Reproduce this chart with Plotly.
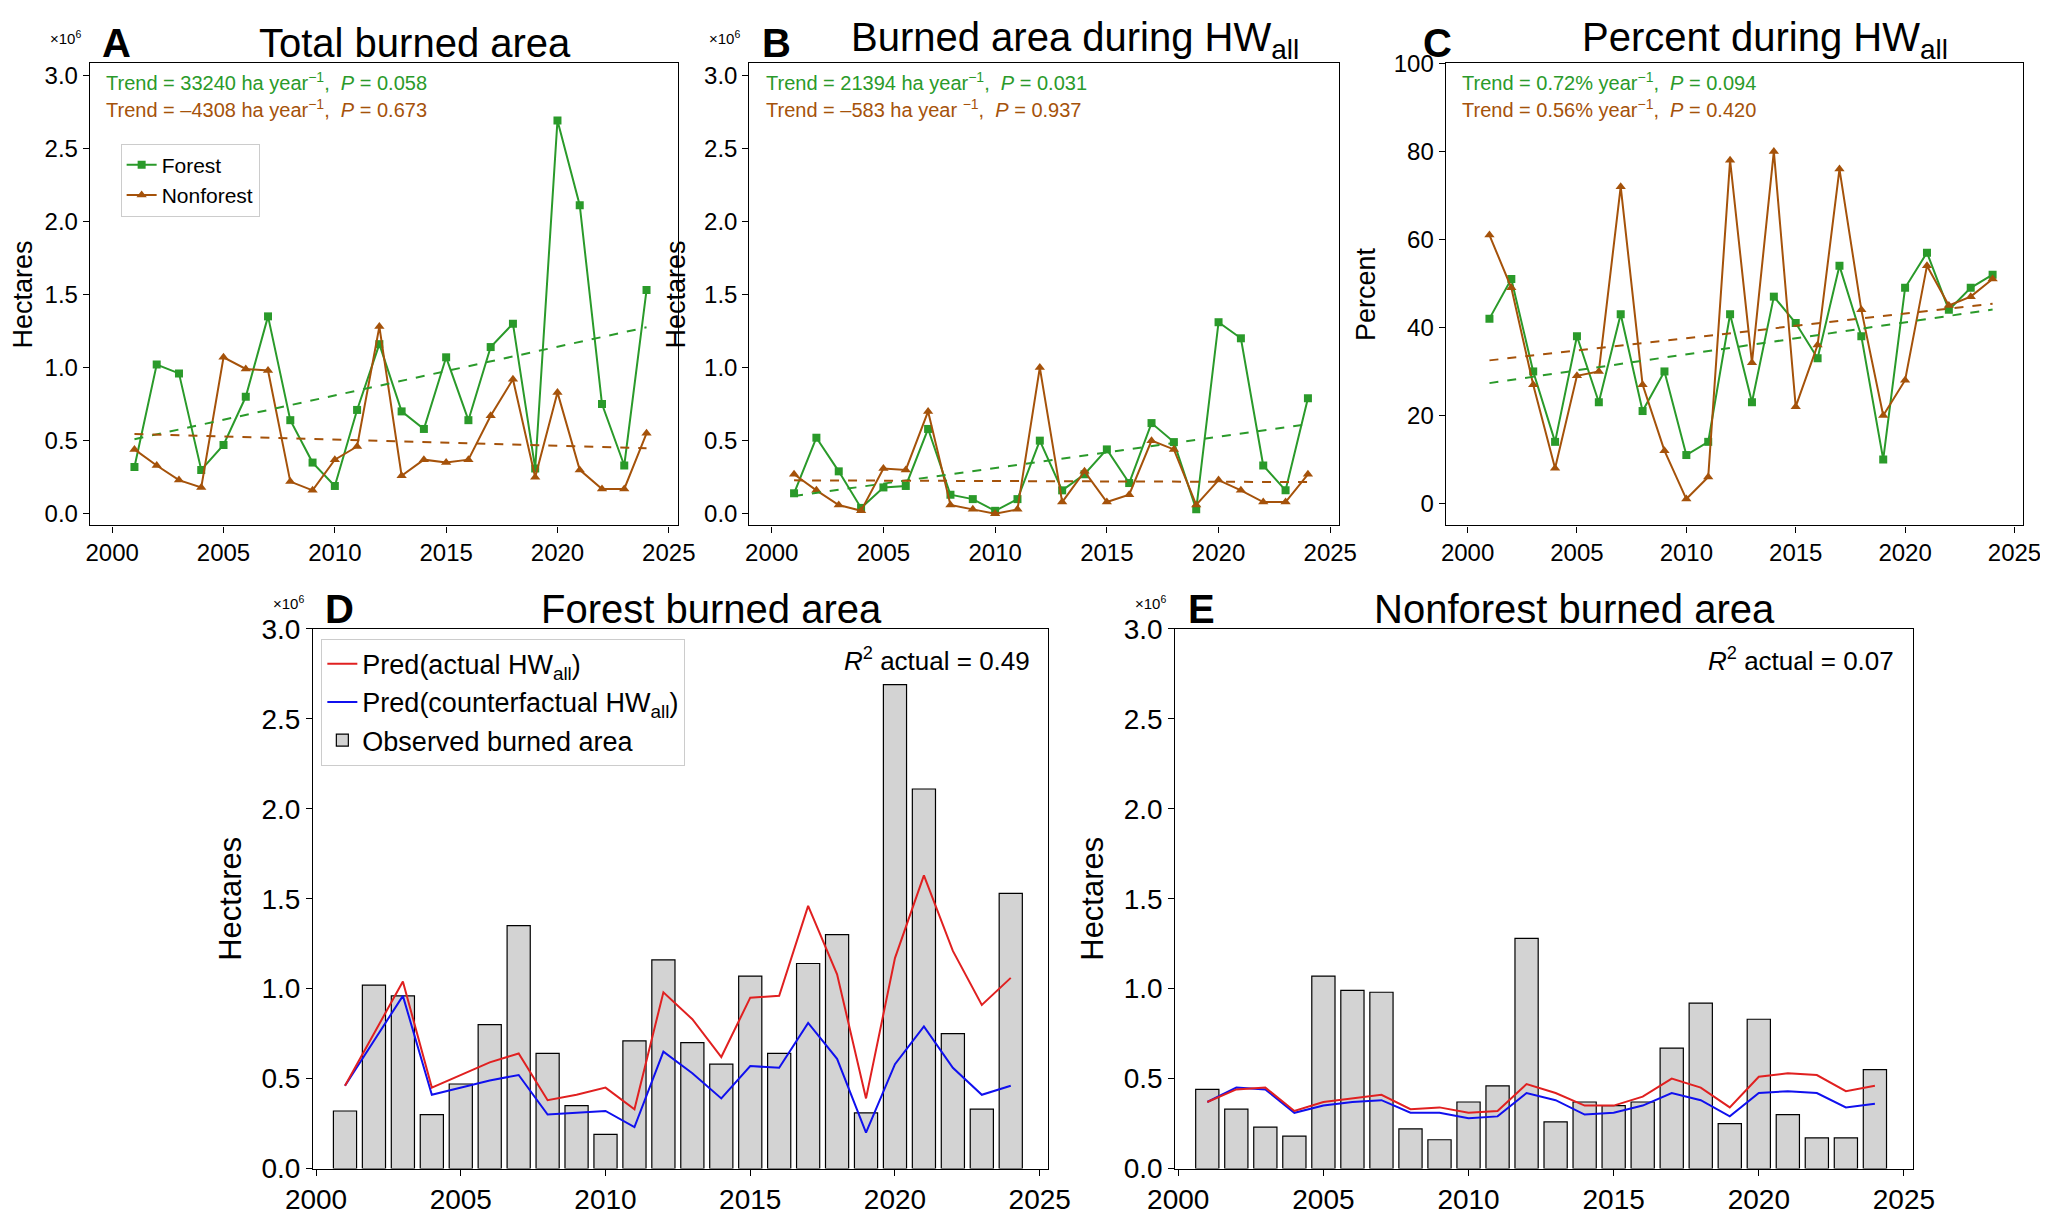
import numpy as np
import plotly.graph_objects as go

years = list(range(2001, 2025))

# burned area, million ha
forest_total = [0.32, 1.02, 0.96, 0.30, 0.47, 0.80, 1.35, 0.64, 0.35, 0.19, 0.71, 1.16,
                0.70, 0.58, 1.07, 0.64, 1.14, 1.30, 0.31, 2.69, 2.11, 0.75, 0.33, 1.53]
nonforest_total = [0.44, 0.33, 0.23, 0.18, 1.07, 0.99, 0.98, 0.22, 0.16, 0.37, 0.46, 1.28,
                   0.26, 0.37, 0.35, 0.37, 0.67, 0.92, 0.25, 0.83, 0.30, 0.17, 0.17, 0.55]
forest_hw = [0.14, 0.52, 0.29, 0.04, 0.18, 0.19, 0.58, 0.13, 0.10, 0.02, 0.10, 0.50,
             0.16, 0.27, 0.44, 0.21, 0.62, 0.49, 0.03, 1.31, 1.20, 0.33, 0.16, 0.79]
nonforest_hw = [0.27, 0.16, 0.06, 0.02, 0.31, 0.30, 0.70, 0.06, 0.03, 0.00, 0.03, 1.00,
                0.08, 0.29, 0.08, 0.13, 0.50, 0.44, 0.06, 0.23, 0.16, 0.08, 0.08, 0.27]
forest_pct = [42, 51, 30, 14, 38, 23, 43, 21, 30, 11, 14, 43, 23, 47, 41, 33, 54, 38, 10, 49, 57, 44, 49, 52]
nonforest_pct = [61, 49, 27, 8, 29, 30, 72, 27, 12, 1, 6, 78, 32, 80, 22, 36, 76, 44, 20, 28, 54, 45, 47, 51]

forest_pred_actual = [0.46, 0.75, 1.04, 0.45, 0.52, 0.59, 0.64, 0.38, 0.41, 0.45, 0.33, 0.98,
                      0.83, 0.62, 0.95, 0.96, 1.46, 1.08, 0.39, 1.17, 1.63, 1.21, 0.91, 1.06]
forest_pred_cf = [0.46, 0.71, 0.96, 0.41, 0.45, 0.49, 0.52, 0.30, 0.31, 0.32, 0.23, 0.65,
                  0.53, 0.39, 0.57, 0.56, 0.81, 0.61, 0.20, 0.58, 0.79, 0.56, 0.41, 0.46]
nonforest_pred_actual = [0.37, 0.44, 0.45, 0.32, 0.37, 0.39, 0.41, 0.33, 0.34, 0.31, 0.32, 0.47,
                         0.42, 0.35, 0.35, 0.40, 0.50, 0.45, 0.34, 0.51, 0.53, 0.52, 0.43, 0.46]
nonforest_pred_cf = [0.37, 0.45, 0.44, 0.31, 0.35, 0.37, 0.38, 0.31, 0.31, 0.28, 0.29, 0.42,
                     0.38, 0.30, 0.31, 0.35, 0.42, 0.38, 0.29, 0.42, 0.43, 0.42, 0.34, 0.36]

GREEN = "#2a9a2a"
BROWN = "#a5520a"
FONT = "Liberation Sans, Arial, sans-serif"

fig = go.Figure()


def trend(y):
    k, b = np.polyfit(years, y, 1)
    return [k * x + b for x in (years[0], years[-1])]


def line_panel(n, f, nf, show_legend):
    xa, ya = ("x" if n == 1 else f"x{n}"), ("y" if n == 1 else f"y{n}")
    fig.add_trace(go.Scatter(x=years, y=f, mode="lines+markers", name="Forest",
                             line=dict(color=GREEN, width=2), marker=dict(symbol="square", size=8),
                             xaxis=xa, yaxis=ya, showlegend=show_legend))
    fig.add_trace(go.Scatter(x=years, y=nf, mode="lines+markers", name="Nonforest",
                             line=dict(color=BROWN, width=2), marker=dict(symbol="triangle-up", size=9),
                             xaxis=xa, yaxis=ya, showlegend=show_legend))
    fig.add_trace(go.Scatter(x=[years[0], years[-1]], y=trend(f), mode="lines",
                             line=dict(color=GREEN, width=2, dash="dash"), xaxis=xa, yaxis=ya, showlegend=False))
    fig.add_trace(go.Scatter(x=[years[0], years[-1]], y=trend(nf), mode="lines",
                             line=dict(color=BROWN, width=2, dash="dash"), xaxis=xa, yaxis=ya, showlegend=False))


line_panel(1, forest_total, nonforest_total, True)
line_panel(2, forest_hw, nonforest_hw, False)
line_panel(3, forest_pct, nonforest_pct, False)


def bar_panel(n, obs, pa, pc, show_legend):
    xa, ya = f"x{n}", f"y{n}"
    fig.add_trace(go.Bar(x=years, y=obs, name="Observed burned area", marker=dict(color="#d3d3d3",
                         line=dict(color="black", width=1.2)), width=0.8,
                         xaxis=xa, yaxis=ya, showlegend=show_legend, legend="legend2"))
    fig.add_trace(go.Scatter(x=years, y=pc, mode="lines", name="Pred(counterfactual HW<sub>all</sub>)",
                             line=dict(color="#1010ee", width=2), xaxis=xa, yaxis=ya,
                             showlegend=show_legend, legend="legend2"))
    fig.add_trace(go.Scatter(x=years, y=pa, mode="lines", name="Pred(actual HW<sub>all</sub>)",
                             line=dict(color="#e02020", width=2), xaxis=xa, yaxis=ya,
                             showlegend=show_legend, legend="legend2"))


bar_panel(4, forest_total, forest_pred_actual, forest_pred_cf, True)
bar_panel(5, nonforest_total, nonforest_pred_actual, nonforest_pred_cf, False)

ax = dict(showline=True, mirror=True, linecolor="black", linewidth=1.3, ticks="outside",
          ticklen=6, tickcolor="black", showgrid=False, zeroline=False)
doms = {1: ([0.040, 0.327], [0.580, 0.955]), 2: ([0.362, 0.650], [0.580, 0.955]),
        3: ([0.702, 0.984], [0.580, 0.955]), 4: ([0.149, 0.508], [0.058, 0.496]),
        5: ([0.570, 0.930], [0.058, 0.496])}
lay = {}
for n, (dx, dy) in doms.items():
    s = "" if n == 1 else str(n)
    fs = 24 if n <= 3 else 28
    xr = [1999, 2025.4] if n <= 3 else [1999.9, 2025.3]
    lay["xaxis" + s] = dict(ax, domain=dx, range=xr, tickvals=[2000, 2005, 2010, 2015, 2020, 2025],
                            anchor="y" + s, tickfont=dict(size=fs, color="black"))
    if n == 3:
        yr, tv, tt = [-5, 100], [0, 20, 40, 60, 80, 100], None
    elif n <= 2:
        yr, tv = [-0.08, 3.08], [0, 0.5, 1, 1.5, 2, 2.5, 3]
        tt = ["%.1f" % v for v in tv]
    else:
        yr, tv = [0, 3.0], [0, 0.5, 1, 1.5, 2, 2.5, 3]
        tt = ["%.1f" % v for v in tv]
    lay["yaxis" + s] = dict(ax, domain=dy, range=yr, tickvals=tv, ticktext=tt, anchor="x" + s,
                            tickfont=dict(size=fs, color="black"),
                            title=dict(text="Percent" if n == 3 else "Hectares",
                                       font=dict(size=fs + 3, color="black"), standoff=10))
fig.update_layout(**lay)

ann = []
titles = {1: ("A", "Total burned area"), 2: ("B", "Burned area during HW<sub>all</sub>"),
          3: ("C", "Percent during HW<sub>all</sub>"), 4: ("D", "Forest burned area"),
          5: ("E", "Nonforest burned area")}
for n, (letter, t) in titles.items():
    dx, dy = doms[n]
    ann.append(dict(text=t, x=(dx[0] + dx[1]) / 2 + 0.015, y=dy[1] - 0.003, xref="paper", yref="paper",
                    xanchor="center", yanchor="bottom", showarrow=False, font=dict(size=40, color="black")))
    lx = dx[0] + 0.005 if n in (1, 2, 4, 5) else dx[0] - 0.012
    ann.append(dict(text="<b>%s</b>" % letter, x=lx, y=dy[1] - 0.003, xref="paper", yref="paper",
                    xanchor="left", yanchor="bottom", showarrow=False, font=dict(size=40, color="black")))
    if n != 3:
        ann.append(dict(text="×10<sup>6</sup>", x=dx[0] - 0.012, y=dy[1] + 0.012, xref="paper", yref="paper",
                        xanchor="center", yanchor="bottom", showarrow=False, font=dict(size=15, color="black")))

trends = {1: ("33240 ha year<sup>−1</sup>", "0.058", "–4308 ha year<sup>−1</sup>", "0.673"),
          2: ("21394 ha year<sup>−1</sup>", "0.031", "–583 ha year <sup>−1</sup>", "0.937"),
          3: ("0.72% year<sup>−1</sup>", "0.094", "0.56% year<sup>−1</sup>", "0.420")}
for n, (a, pa, b, pb) in trends.items():
    dx, dy = doms[n]
    ann.append(dict(text="Trend = %s,  <i>P</i> = %s" % (a, pa), x=dx[0] + 0.007, y=dy[1] - 0.003,
                    xref="paper", yref="paper", xanchor="left", yanchor="top", showarrow=False,
                    font=dict(size=20, color=GREEN)))
    ann.append(dict(text="Trend = %s,  <i>P</i> = %s" % (b, pb), x=dx[0] + 0.007, y=dy[1] - 0.025,
                    xref="paper", yref="paper", xanchor="left", yanchor="top", showarrow=False,
                    font=dict(size=20, color=BROWN)))
for n, r2 in ((4, "0.49"), (5, "0.07")):
    dx, dy = doms[n]
    ann.append(dict(text="<i>R</i><sup>2</sup> actual = %s" % r2, x=dx[1] - 0.008, y=dy[1] - 0.01,
                    xref="paper", yref="paper", xanchor="right", yanchor="top", showarrow=False,
                    font=dict(size=26, color="black")))

fig.update_layout(
    annotations=ann,
    width=2048, height=1232, template="none", plot_bgcolor="white", paper_bgcolor="white",
    font=dict(family=FONT, color="black"),
    margin=dict(l=0, r=0, t=0, b=0),
    legend=dict(x=0.055, y=0.89, xanchor="left", yanchor="top", bgcolor="white",
                bordercolor="#cccccc", borderwidth=1, font=dict(size=21)),
    legend2=dict(x=0.153, y=0.488, xanchor="left", yanchor="top", bgcolor="white",
                 bordercolor="#cccccc", borderwidth=1, font=dict(size=27), traceorder="reversed"),
)
fig.write_html("out.html")
